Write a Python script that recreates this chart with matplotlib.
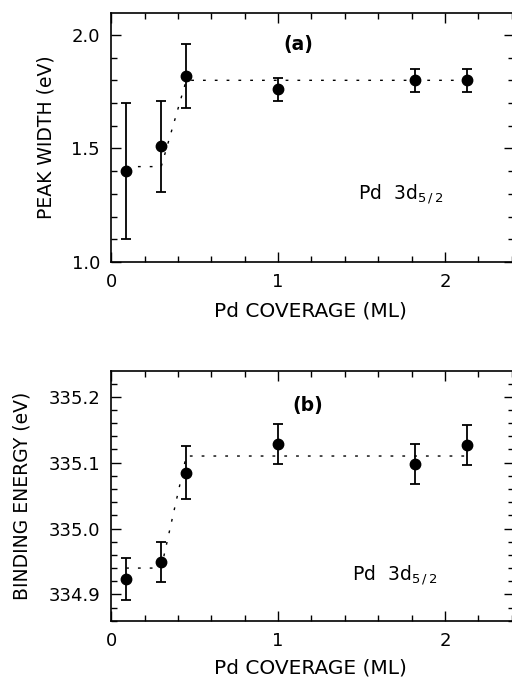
import matplotlib
matplotlib.use('Agg')
import matplotlib.pyplot as plt
from matplotlib.ticker import MultipleLocator, FormatStrFormatter

plt.rcParams['font.family'] = ['DejaVu Sans']

# coverage (ML)
coverage = [0.09, 0.30, 0.45, 1.00, 1.82, 2.13]

# panel (a): peak width (eV)
width = [1.40, 1.51, 1.82, 1.76, 1.80, 1.80]
width_err = [0.30, 0.20, 0.14, 0.05, 0.05, 0.05]
fit_a_x = [0.09, 0.30, 0.45, 2.13]
fit_a_y = [1.42, 1.42, 1.80, 1.80]

# panel (b): binding energy (eV)
energy = [334.923, 334.949, 335.085, 335.128, 335.098, 335.127]
energy_err = [0.032, 0.030, 0.040, 0.030, 0.030, 0.030]
fit_b_x = [0.09, 0.30, 0.45, 2.13]
fit_b_y = [334.94, 334.94, 335.11, 335.11]

fig = plt.figure(figsize=(5.12, 6.77), dpi=100)
ax1 = fig.add_axes([0.217, 0.613, 0.786, 0.368])
ax2 = fig.add_axes([0.217, 0.083, 0.786, 0.369])

label_txt = r'Pd  3d$_{5\,/\,2}$'


def style(ax):
    ax.set_xlim(0, 2.41)
    ax.xaxis.set_major_locator(MultipleLocator(1))
    ax.xaxis.set_minor_locator(MultipleLocator(0.2))
    ax.tick_params(which='both', direction='in', top=True, right=True,
                   labelsize=13, width=1)
    ax.tick_params(which='major', length=7, pad=8)
    ax.tick_params(which='minor', length=4.5)
    for s in ax.spines.values():
        s.set_linewidth(1.2)
    ax.set_xlabel('Pd COVERAGE (ML)', fontsize=14.5)


# (a)
ax1.plot(fit_a_x, fit_a_y, color='black', linestyle=(0, (2, 6.5)), lw=1)
ax1.errorbar(coverage, width, yerr=width_err, fmt='o', color='black',
             ms=7.5, capsize=3.5, elinewidth=1.3, capthick=1.3)
ax1.set_ylim(1.0, 2.097)
ax1.yaxis.set_major_locator(MultipleLocator(0.5))
ax1.yaxis.set_minor_locator(MultipleLocator(0.1))
ax1.yaxis.set_major_formatter(FormatStrFormatter('%.1f'))
style(ax1)
ax1.set_ylabel('PEAK WIDTH (eV)', fontsize=13.5)
ax1.yaxis.set_label_coords(-0.139, 0.5)
ax1.xaxis.set_label_coords(0.495, -0.16)
ax1.text(1.12, 1.956, '(a)', fontsize=13.5, fontweight='bold', ha='center', va='center')
ax1.text(1.48, 1.30, label_txt, fontsize=13.5, ha='left', va='center')

# (b)
ax2.plot(fit_b_x, fit_b_y, color='black', linestyle=(0, (2, 6.5)), lw=1)
ax2.errorbar(coverage, energy, yerr=energy_err, fmt='o', color='black',
             ms=7.5, capsize=3.5, elinewidth=1.3, capthick=1.3)
ax2.set_ylim(334.86, 335.239)
ax2.yaxis.set_major_locator(MultipleLocator(0.1))
ax2.yaxis.set_minor_locator(MultipleLocator(0.02))
ax2.yaxis.set_major_formatter(FormatStrFormatter('%.1f'))
style(ax2)
ax2.set_ylabel('BINDING ENERGY (eV)', fontsize=13.5)
ax2.yaxis.set_label_coords(-0.197, 0.5)
ax2.xaxis.set_label_coords(0.495, -0.152)
ax2.text(1.18, 335.186, '(b)', fontsize=13.5, fontweight='bold', ha='center', va='center')
ax2.text(1.44, 334.93, label_txt, fontsize=13.5, ha='left', va='center')

fig.savefig('out.png', dpi=100)
